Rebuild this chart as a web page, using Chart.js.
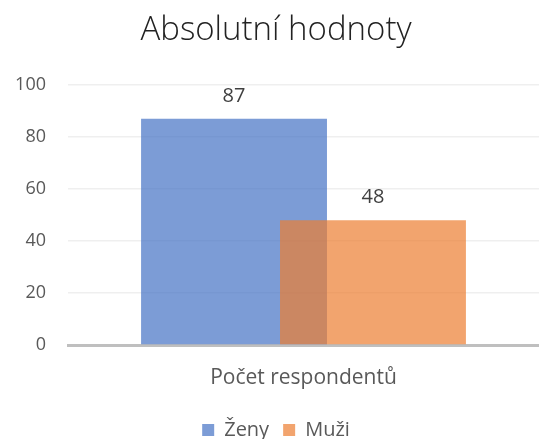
<!DOCTYPE html>
<html>
<head>
<meta charset="utf-8">
<script src="https://cdn.jsdelivr.net/npm/chart.js@4"></script>
<style>
  body { margin: 0; background: #fff; }
  #wrap { width: 539px; height: 439px; }
</style>
</head>
<body>
<div id="wrap"><canvas id="chart"></canvas></div>
<script>
// chart data
const categories = ["Počet respondentů"];
const seriesNames = ["Ženy", "Muži"];
const zenyValues = [87];
const muziValues = [48];
const yTicks = [0, 20, 40, 60, 80, 100];

const blue = "rgba(68, 114, 196, 0.7)";
const orange = "rgba(237, 125, 49, 0.7)";
const font = "Open Sans";

// draw datasets first-to-last so the orange bar sits on top of the blue one
const drawOrder = {
    id: "drawOrder",
    beforeDatasetsDraw(chart) {
        chart.getSortedVisibleDatasetMetas().forEach(m => m.controller.draw());
        return false;
    }
};

// value labels above the bars
const valueLabels = {
    id: "valueLabels",
    afterDraw(chart) {
        const ctx = chart.ctx;
        ctx.save();
        ctx.font = "20px '" + font + "'";
        ctx.fillStyle = "#404040";
        ctx.textAlign = "center";
        ctx.textBaseline = "alphabetic";
        chart.data.datasets.forEach((ds, i) => {
            chart.getDatasetMeta(i).data.forEach((bar, j) => {
                ctx.fillText(ds.data[j], bar.x, bar.y - 17);
            });
        });
        ctx.restore();
    }
};

new Chart(document.getElementById("chart"), {
    type: "bar",
    plugins: [drawOrder, valueLabels],
    data: {
        labels: categories,
        datasets: [
            { label: seriesNames[0], data: zenyValues, backgroundColor: blue },
            { label: seriesNames[1], data: muziValues, backgroundColor: orange },
        ],
    },
    options: {
        responsive: true,
        maintainAspectRatio: false,
        animation: false,
        categoryPercentage: 0.59,
        barPercentage: 1.338,
        layout: { padding: { left: 13, right: 0, top: 0, bottom: -11 } },
        scales: {
            x: {
                grid: { display: false, drawTicks: false },
                border: { color: "#bfbfbf", width: 3 },
                ticks: { color: "#595959", font: { family: font, size: 21 }, padding: 20 },
                // the long category label should not push the plot area in
                afterFit: (s) => { s.paddingLeft = 0; s.paddingRight = 0; s.height = 61; },
            },
            y: {
                min: 0,
                max: 100,
                afterBuildTicks: (axis) => { axis.ticks = yTicks.map(v => ({ value: v })); },
                afterFit: (s) => { s.width = 55; },
                grid: { color: "#efefef", lineWidth: 1.5, drawTicks: false },
                border: { display: false },
                ticks: { color: "#595959", font: { family: font, size: 18 }, padding: 22 },
            },
        },
        plugins: {
            tooltip: { enabled: false },
            title: {
                display: true,
                text: "Absolutní hodnoty",
                color: "#222",
                font: { family: font, size: 33, weight: 300 },
                padding: { top: 11, bottom: 34.4 },
            },
            legend: {
                position: "bottom",
                labels: {
                    color: "#595959",
                    font: { family: font, size: 20 },
                    boxWidth: 12,
                    boxHeight: 12,
                    padding: 14,
                },
            },
        },
    },
});
</script>
</body>
</html>
